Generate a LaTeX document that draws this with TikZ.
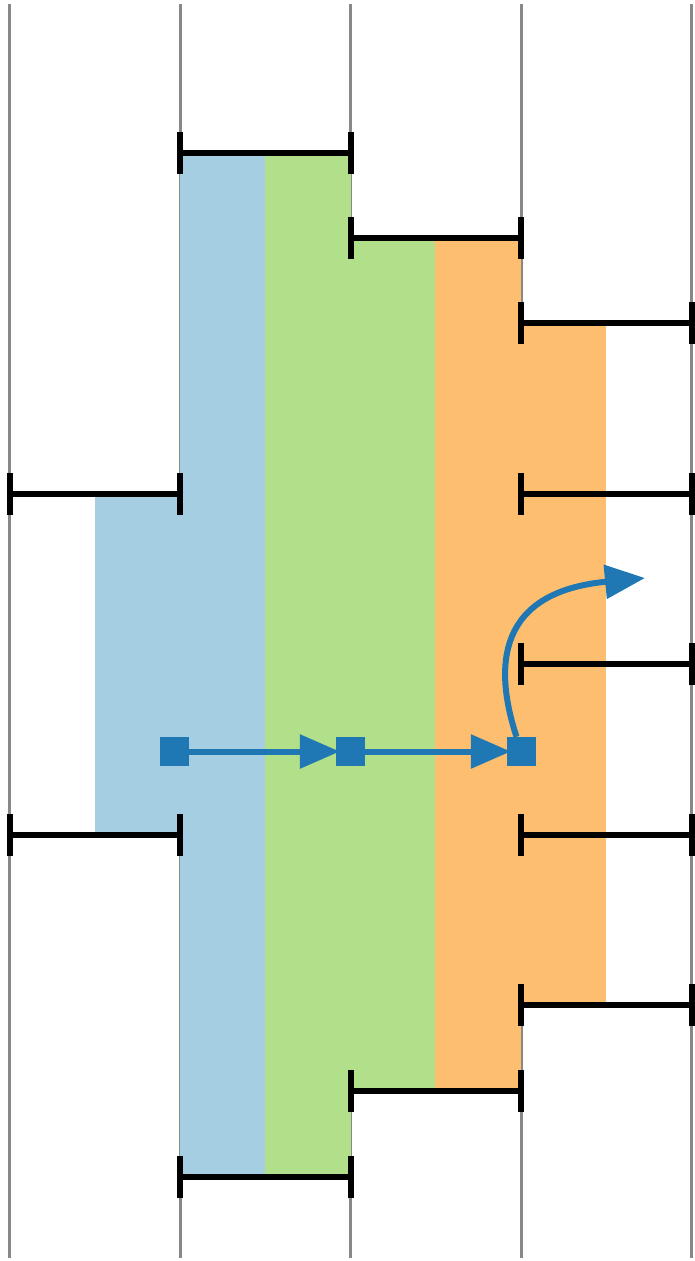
\documentclass[tikz,border=0pt]{standalone}
\usetikzlibrary{arrows.meta}
\definecolor{cblue}{HTML}{A6CEE3}
\definecolor{cgreen}{HTML}{B2DF8A}
\definecolor{corange}{HTML}{FDBF6F}
\definecolor{cdark}{HTML}{1F78B4}
\definecolor{cgray}{HTML}{888888}
\begin{document}
\begin{tikzpicture}[x=1pt,y=-1pt,
  grid/.style={draw=cgray,line width=3pt},
  bar/.style={draw=black,line width=6pt},
  sq/.style={rectangle,fill=cdark,inner sep=0pt,minimum size=29pt},
  conn/.style={draw=cdark,line width=6pt,-{Triangle[length=40pt,width=33pt]}}]
\useasboundingbox (0,0) rectangle (695,1261);
% vertical grid lines
\foreach \x in {9.5,180,350.5,521,691.5}
  \draw[grid] (\x,4) -- (\x,1258);
% fills
\fill[cblue] (180,153) rectangle (265,1177);
\fill[cblue] (95,494) rectangle (180,835);
\fill[cgreen] (265,153) rectangle (350.5,1177);
\fill[cgreen] (350.5,238) rectangle (435,1091);
\fill[corange] (435,238) rectangle (521,1091);
\fill[corange] (521,323) rectangle (606,1005);
% brackets
\foreach \a/\b/\y in {180/350.5/153, 350.5/521/238, 521/691.5/323,
    9.5/180/494, 521/691.5/494, 521/691.5/664,
    9.5/180/835, 521/691.5/835, 521/691.5/1005,
    350.5/521/1091, 180/350.5/1177}{
  \draw[bar] (\a,\y) -- (\b,\y);
  \draw[bar] (\a,\y-21) -- (\a,\y+21);
  \draw[bar] (\b,\y-21) -- (\b,\y+21);
}
% squares and arrows
\node[sq] (s1) at (174.5,751.5) {};
\node[sq] (s2) at (350.5,751.5) {};
\node[sq] (s3) at (521.5,751.5) {};
\coordinate (e) at (645,578);
\draw[conn,shorten >=-4pt] (s1) -- (s2);
\draw[conn,shorten >=-4pt] (s2) -- (s3);
\draw[conn] (s3.north) ++(-5,0) .. controls (493,665) and (498,592) .. (e);
\end{tikzpicture}
\end{document}
